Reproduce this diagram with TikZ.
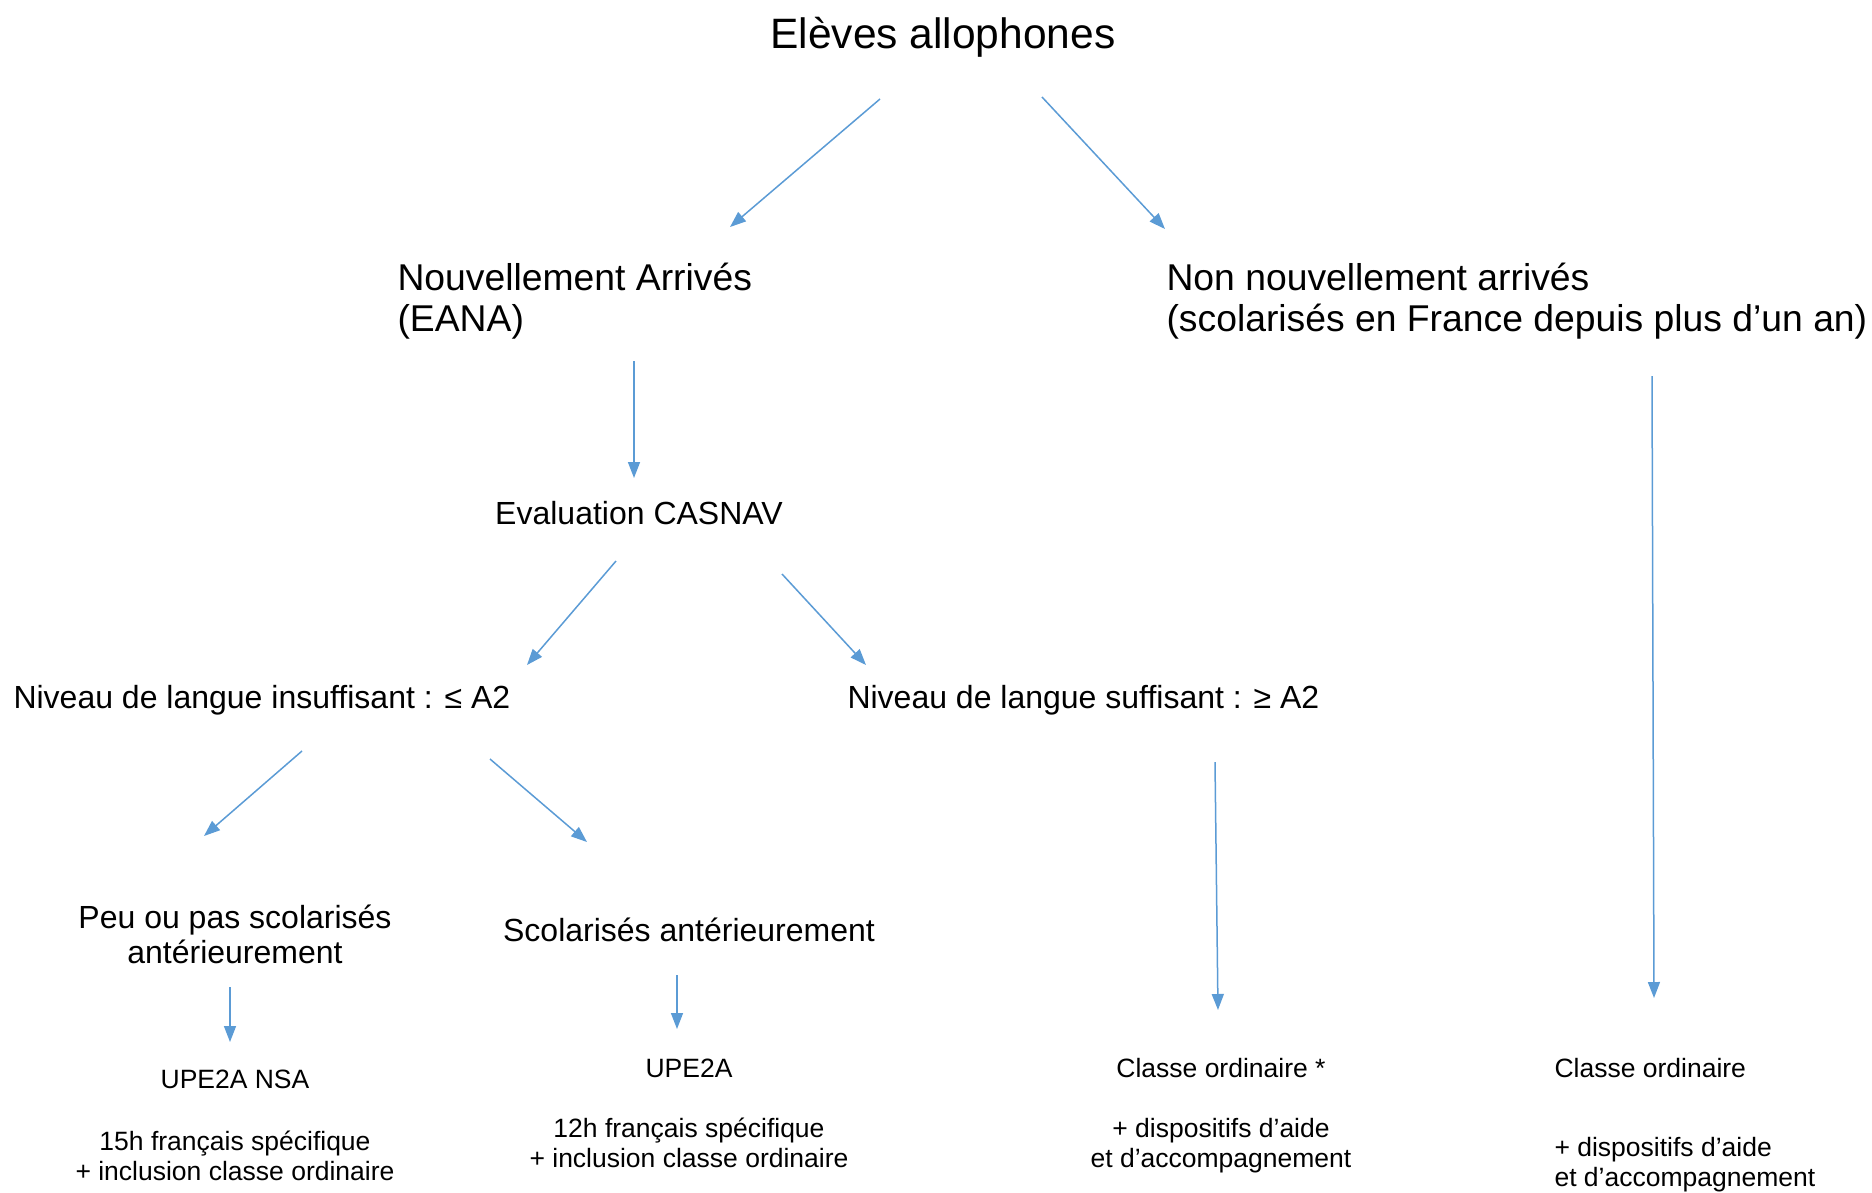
\documentclass[tikz,border=0pt]{standalone}
\usepackage{fontspec}
\setmainfont{Liberation Sans}
\usetikzlibrary{arrows.meta}
\tikzset{
  flow arrow/.style={
    color=arrowblue, line width=1.5pt,
    -{Triangle[length=16pt,width=12pt]},
  },
  big text/.style={font=\fontsize{42.5}{50}\selectfont},
  mid text/.style={font=\fontsize{37.3}{41}\selectfont},
  std text/.style={font=\fontsize{32}{35}\selectfont},
  small text/.style={font=\fontsize{26.5}{29.5}\selectfont},
}

\begin{document}
\begin{tikzpicture}[x=1pt, y=-1pt]
% Defining colors
\definecolor{arrowblue}{RGB}{91,155,213}

\useasboundingbox (0,0) rectangle (1872,1192);

% =:=:=:=:=:=:=:=:=:=:=:=:=:=:=:=:=:=:=
% Top level
% =:=:=:=:=:=:=:=:=:=:=:=:=:=:=:=:=:=:=
\node[big text, anchor=base] (eleves) at (943,48) {Elèves allophones};

\coordinate (eleves-l) at (880,99);
\coordinate (eleves-r) at (1042,97);
\coordinate (eana-in) at (730,227);
\coordinate (nna-in) at (1165,229);

\draw[flow arrow] (eleves-l) -- (eana-in);
\draw[flow arrow] (eleves-r) -- (nna-in);

% =:=:=:=:=:=:=:=:=:=:=:=:=:=:=:=:=:=:=
% Second level
% =:=:=:=:=:=:=:=:=:=:=:=:=:=:=:=:=:=:=
% base anchor sits on the last line
\node[mid text, anchor=base west, align=left] (eana) at (394,331)
    {Nouvellement Arrivés\\(EANA)};
\node[mid text, anchor=base west, align=left] (nna) at (1163,331)
    {Non nouvellement arrivés\\(scolarisés en France depuis plus d’un an)};

\coordinate (eana-out) at (634,361);
\coordinate (eval-in) at (634,478);
\coordinate (nna-out) at (1652,376);
\coordinate (ordB-in) at (1654,998);

\draw[flow arrow] (eana-out) -- (eval-in);
\draw[flow arrow] (nna-out) -- (ordB-in);

% =:=:=:=:=:=:=:=:=:=:=:=:=:=:=:=:=:=:=
% Evaluation
% =:=:=:=:=:=:=:=:=:=:=:=:=:=:=:=:=:=:=
\node[std text, anchor=base] (eval) at (639,524) {Evaluation CASNAV};

\coordinate (eval-l) at (616,561);
\coordinate (eval-r) at (782,574);
\coordinate (insuff-in) at (527,665);
\coordinate (suff-in) at (866,665);

\draw[flow arrow] (eval-l) -- (insuff-in);
\draw[flow arrow] (eval-r) -- (suff-in);

% =:=:=:=:=:=:=:=:=:=:=:=:=:=:=:=:=:=:=
% Language level
% =:=:=:=:=:=:=:=:=:=:=:=:=:=:=:=:=:=:=
\node[std text, anchor=base west] (insuff) at (10,708)
    {Niveau de langue insuffisant : ≤ A2};
\node[std text, anchor=base west] (suff) at (844,708)
    {Niveau de langue suffisant : ≥ A2};

\coordinate (insuff-l) at (302,751);
\coordinate (insuff-r) at (490,759);
\coordinate (nsa-in) at (204,836);
\coordinate (sco-in) at (587,842);
\coordinate (suff-out) at (1215,762);
\coordinate (ordA-in) at (1218,1010);

\draw[flow arrow] (insuff-l) -- (nsa-in);
\draw[flow arrow] (insuff-r) -- (sco-in);
\draw[flow arrow] (suff-out) -- (ordA-in);

% =:=:=:=:=:=:=:=:=:=:=:=:=:=:=:=:=:=:=
% Schooling
% =:=:=:=:=:=:=:=:=:=:=:=:=:=:=:=:=:=:=
\node[std text, anchor=base, align=center] (nsa) at (235,963)
    {Peu ou pas scolarisés\\antérieurement};
\node[std text, anchor=base] (sco) at (689,941) {Scolarisés antérieurement};

\coordinate (nsa-out) at (230,987);
\coordinate (upenas-in) at (230,1042);
\coordinate (sco-out) at (677,975);
\coordinate (upe-in) at (677,1029);

\draw[flow arrow] (nsa-out) -- (upenas-in);
\draw[flow arrow] (sco-out) -- (upe-in);

% =:=:=:=:=:=:=:=:=:=:=:=:=:=:=:=:=:=:=
% Outcomes
% =:=:=:=:=:=:=:=:=:=:=:=:=:=:=:=:=:=:=
\node[small text, anchor=base, align=center] (upenas) at (235,1180)
    {UPE2A NSA\\[33pt]15h français spécifique\\+ inclusion classe ordinaire};
\node[small text, anchor=base, align=center] (upe) at (689,1167)
    {UPE2A\\[31pt]12h français spécifique\\+ inclusion classe ordinaire};
\node[small text, anchor=base, align=center] (ordA) at (1221,1167)
    {Classe ordinaire *\\[31pt]+ dispositifs d’aide\\et d’accompagnement};
\node[small text, anchor=base west, align=left] (ordB) at (1551,1186)
    {Classe ordinaire\\[50pt]+ dispositifs d’aide\\et d’accompagnement};

\end{tikzpicture}
\end{document}
